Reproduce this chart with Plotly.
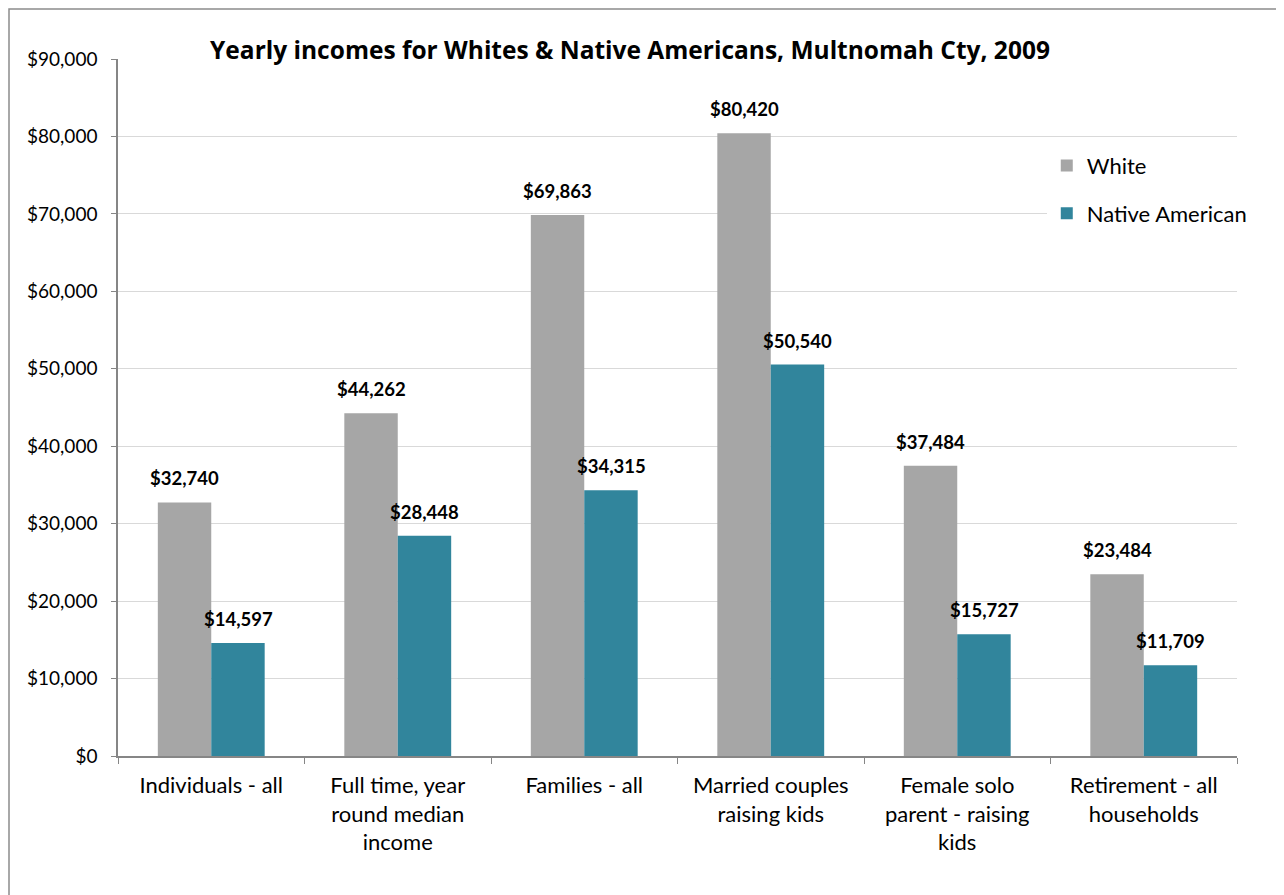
import plotly.graph_objects as go

# Data
categories = [
    'Individuals - all',
    'Full time, year<br>round median<br>income',
    'Families - all',
    'Married couples<br>raising kids',
    'Female solo<br>parent - raising<br>kids',
    'Retirement - all<br>households',
]
white = [32740, 44262, 69863, 80420, 37484, 23484]
native_american = [14597, 28448, 34315, 50540, 15727, 11709]
y_ticks = [0, 10000, 20000, 30000, 40000, 50000, 60000, 70000, 80000, 90000]

FONT = 'Lato'
GRAY = '#A6A6A6'
TEAL = '#31859C'

fig = go.Figure()
fig.add_trace(go.Bar(x=categories, y=white, name='White',
                     marker=dict(color=GRAY, line=dict(width=0)),
                     legendgroup='w'))
fig.add_trace(go.Bar(x=categories, y=native_american, name='Native American',
                     marker=dict(color=TEAL, line=dict(width=0)),
                     legendgroup='n'))

# value labels above the bars
for series, shift in [(white, -26.75), (native_american, 26.75)]:
    for cat, val in zip(categories, series):
        fig.add_annotation(x=cat, y=val, xref='x', yref='y',
                           text='<b>${:,}</b>'.format(val),
                           showarrow=False, xshift=shift, yshift=24,
                           yanchor='middle',
                           font=dict(family=FONT, size=18.5, color='black'))

# page has an 8px body margin, so the figure is 8px smaller and shifted
fig.update_layout(
    width=1276, height=887,
    margin=dict(l=110, r=47, t=51, b=139),
    plot_bgcolor='white',
    paper_bgcolor='white',
    barmode='group',
    bargap=0.427,
    bargroupgap=0,
    font=dict(family=FONT, size=19, color='black'),
    title=dict(text='<b>Yearly incomes for Whites & Native Americans, Multnomah Cty, 2009</b>',
               x=622 / 1276, xanchor='center', xref='container',
               y=1 - 42 / 887, yanchor='middle', yref='container',
               font=dict(family='Open Sans', size=24.5, color='black')),
    legend=dict(x=0.830, y=0.877, xanchor='left', yanchor='top',
                bgcolor='white', font=dict(family=FONT, size=22),
                tracegroupgap=16, itemwidth=30),
    showlegend=True,
    xaxis=dict(showline=True, linecolor='#868686', linewidth=1.5,
               ticks='outside', ticklen=6, tickcolor='#868686',
               tickson='boundaries', ticklabelstandoff=9,
               tickfont=dict(family=FONT, size=22)),
    yaxis=dict(range=[0, 90000], tickvals=y_ticks,
               ticktext=['${:,}'.format(v) for v in y_ticks],
               showline=True, linecolor='#868686', linewidth=1.5,
               ticks='outside', ticklen=5, tickcolor='#868686',
               showgrid=True, gridcolor='#D9D9D9', gridwidth=1,
               zeroline=False, ticklabelstandoff=10,
               tickfont=dict(family=FONT, size=19)),
)

# chart outer border (left and top visible in the reference)
fig.add_shape(type='rect', xref='paper', yref='paper',
              x0=-109 / 1119, x1=1.1, y0=-0.3, y1=747 / 697,
              line=dict(color='#8C8C8C', width=1.5), fillcolor='rgba(0,0,0,0)',
              layer='below')

fig.write_html('out.html')
